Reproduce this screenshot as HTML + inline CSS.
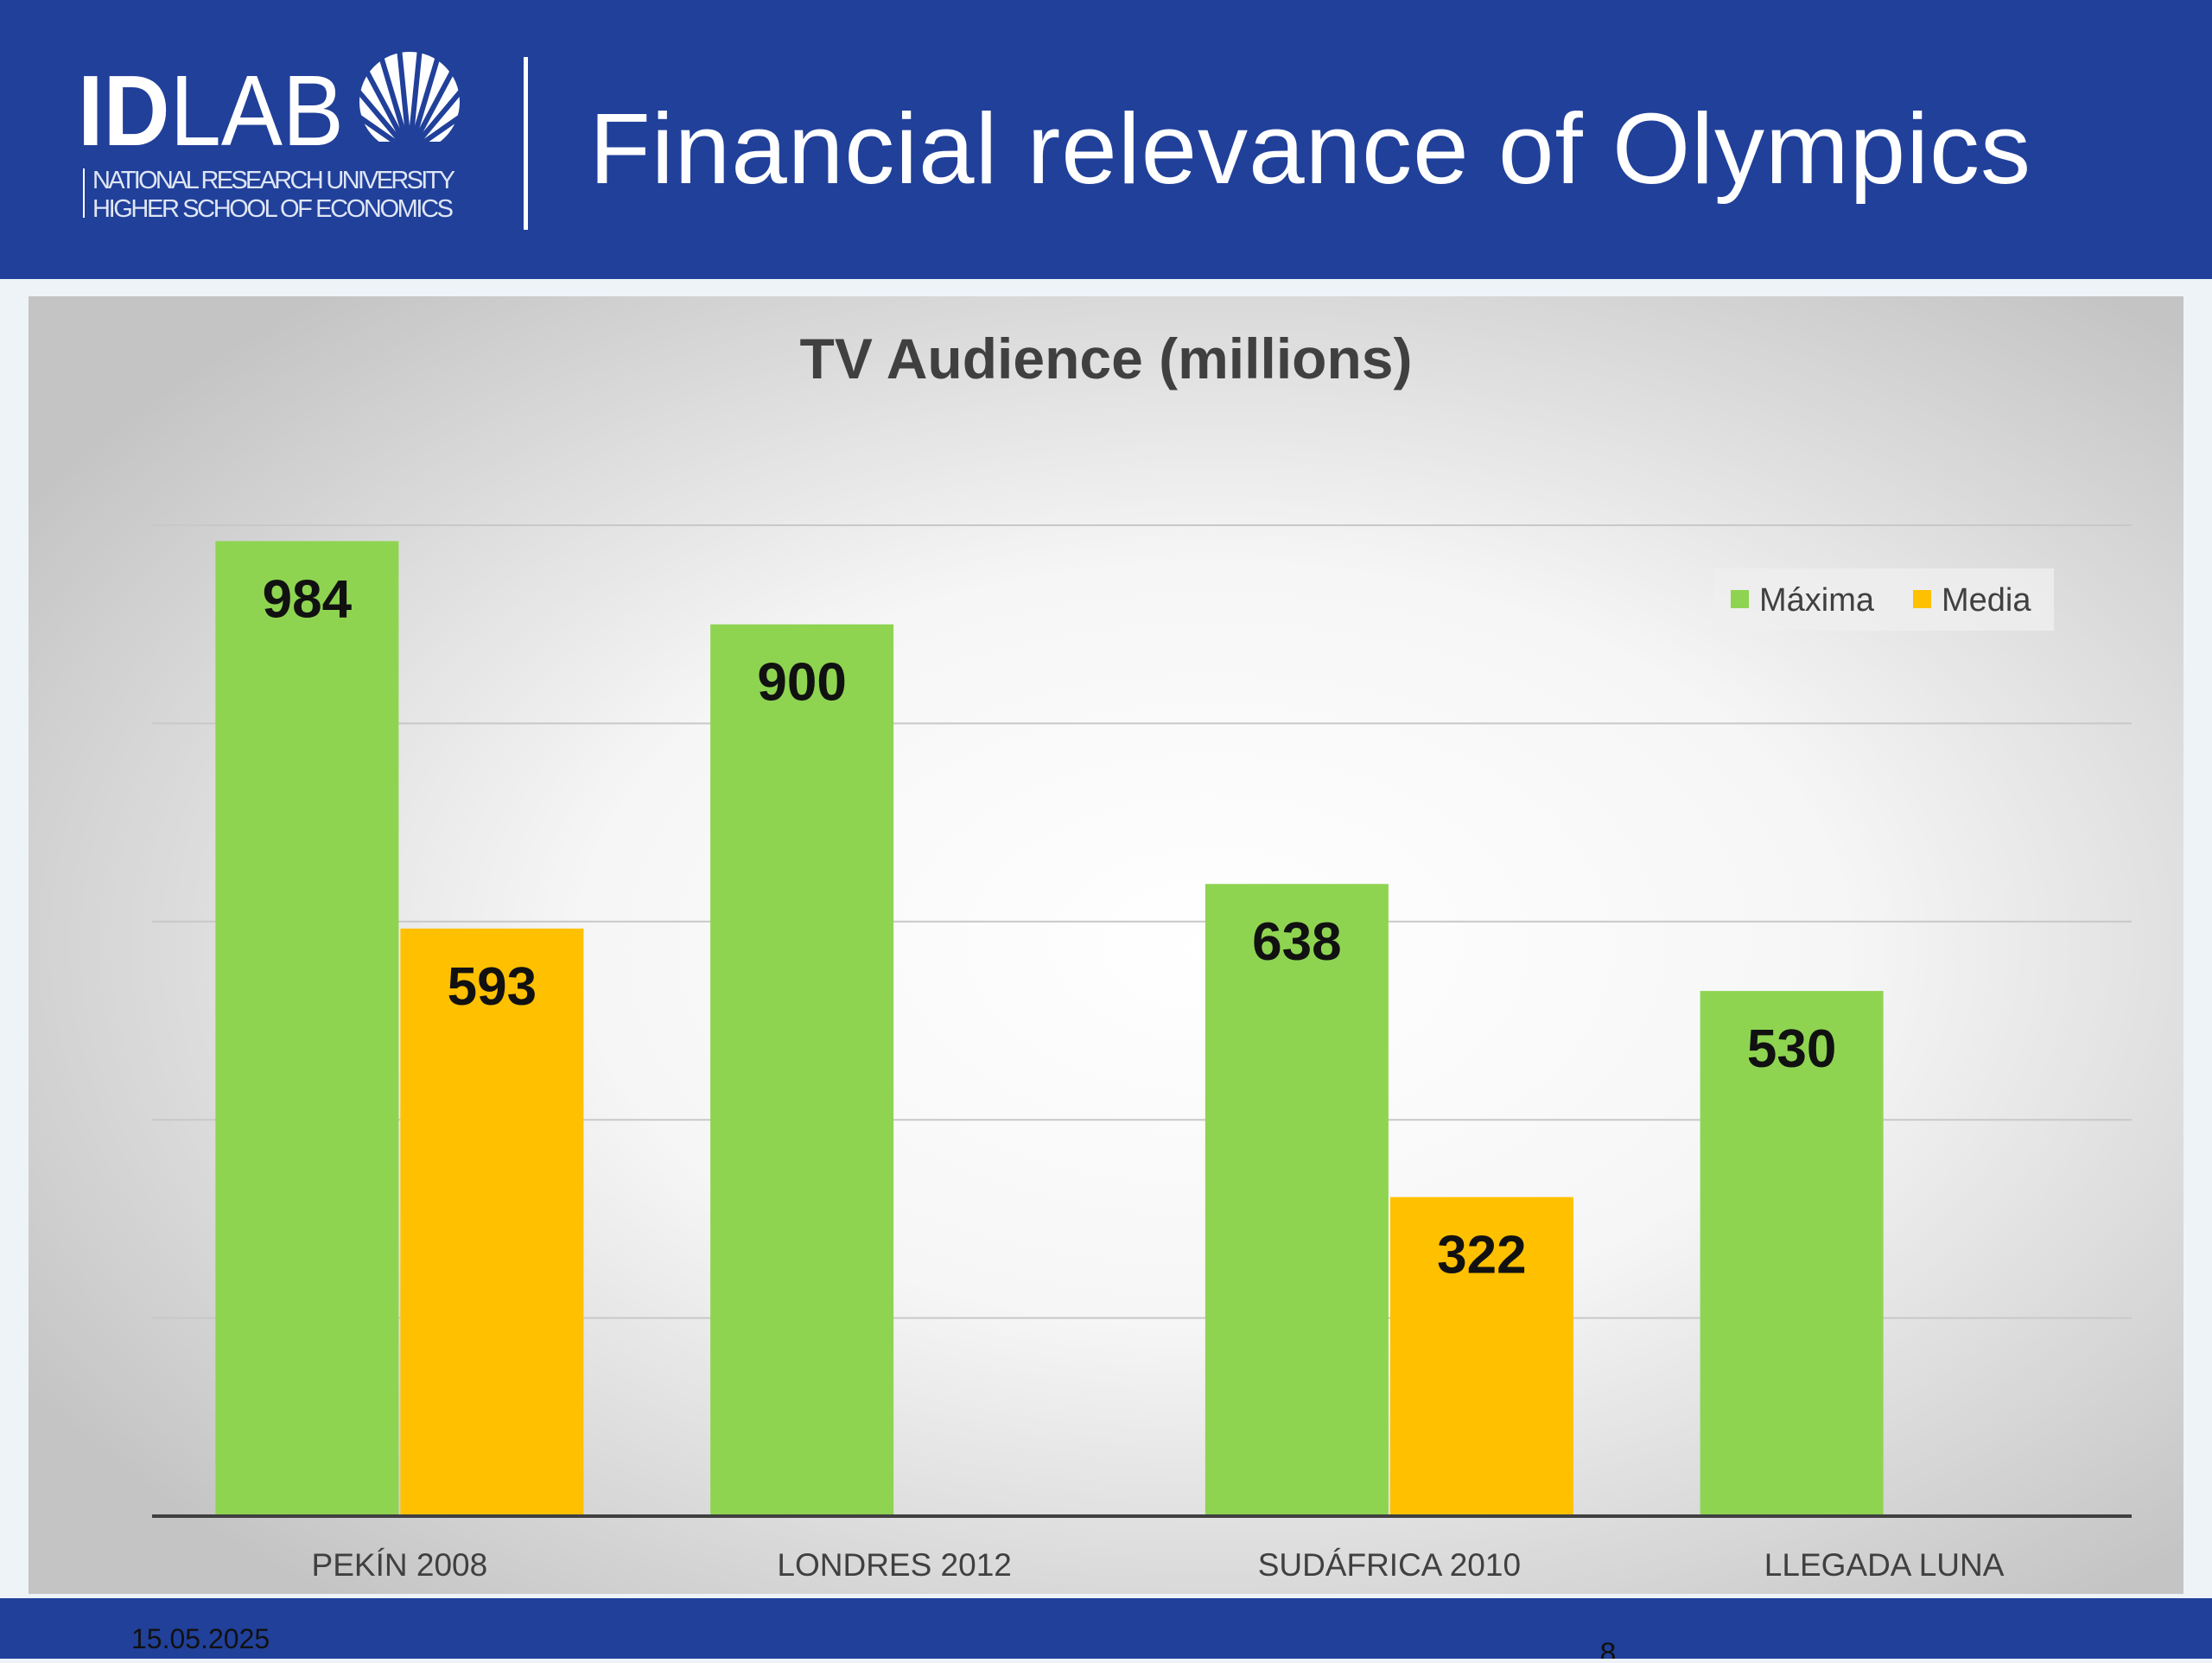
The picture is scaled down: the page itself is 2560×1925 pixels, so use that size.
<!DOCTYPE html>
<html><head><meta charset="utf-8"><style>
html,body{margin:0;padding:0;background:#eef3f8;}
body{width:2560px;height:1920px;overflow:hidden;font-family:"Liberation Sans",sans-serif;}
</style></head><body>
<svg id="c" width="2560" height="1920" xmlns="http://www.w3.org/2000/svg">
<defs>
<radialGradient id="bg" cx="0.55" cy="0.5" r="0.65">
<stop offset="0" stop-color="#ffffff"/><stop offset="0.45" stop-color="#f6f6f6"/><stop offset="1" stop-color="#c4c4c4"/>
</radialGradient>
</defs>
<rect x="0" y="0" width="2560" height="1920" fill="#eef3f8"/>
<g>
<rect x="0" y="0" width="2560" height="323" fill="#21409a"/>
<text x="90" y="168" font-size="116" fill="#fff" font-weight="bold" textLength="308" lengthAdjust="spacingAndGlyphs">ID<tspan font-weight="normal">LAB</tspan></text>
<g>
<circle cx="474" cy="118" r="58" fill="#fff"/>
<g stroke="#21409a" stroke-width="6">
<line x1="474" y1="176" x2="410" y2="100"/>
<line x1="474" y1="176" x2="422" y2="78"/>
<line x1="474" y1="176" x2="440" y2="62"/>
<line x1="474" y1="176" x2="462" y2="56"/>
<line x1="474" y1="176" x2="486" y2="56"/>
<line x1="474" y1="176" x2="508" y2="62"/>
<line x1="474" y1="176" x2="526" y2="78"/>
<line x1="474" y1="176" x2="538" y2="100"/>
<line x1="474" y1="176" x2="540" y2="130"/>
<line x1="474" y1="176" x2="408" y2="130"/>
</g>
<rect x="400" y="164" width="150" height="20" fill="#21409a"/>
</g>
<line x1="97" y1="195" x2="97" y2="252" stroke="#fff" stroke-width="2"/>
<text x="107" y="218" font-size="29" fill="#dfe6f5" textLength="420">NATIONAL RESEARCH UNIVERSITY</text>
<text x="107" y="251" font-size="29" fill="#dfe6f5" textLength="418">HIGHER SCHOOL OF ECONOMICS</text>
<rect x="606" y="66" width="5" height="200" fill="#fff"/>
<text x="682" y="212" font-size="116" fill="#fff" textLength="1668">Financial relevance of Olympics</text>
</g>
<rect x="33" y="343" width="2494" height="1502" fill="url(#bg)"/>
<text x="1280" y="438" font-size="66" font-weight="bold" fill="#404040" text-anchor="middle">TV Audience (millions)</text>
<g id="grid"></g>
<g id="bars"></g>
<g>
<rect x="1983" y="658" width="394" height="72" fill="#efefef" opacity="0.8"/>
<rect x="2003" y="683" width="21" height="21" fill="#8ed451"/>
<text x="2036" y="707" font-size="38" fill="#404040">Máxima</text>
<rect x="2214" y="683" width="21" height="21" fill="#ffc000"/>
<text x="2247" y="707" font-size="38" fill="#404040">Media</text>
</g>
<g>
<rect x="0" y="1850" width="2560" height="70" fill="#21409a"/>
<text x="152" y="1908" font-size="32" fill="#111">15.05.2025</text>
<text x="1861" y="1925" font-size="34" fill="#111" text-anchor="middle">8</text>
</g>
</svg>
<script>
const categories = ["PEKÍN 2008","LONDRES 2012","SUDÁFRICA 2010","LLEGADA LUNA"];
const maxima = [984, 900, 638, 530];
const media = [593, null, 322, null];
const yTicks = [0, 200, 400, 600, 800, 1000];
const NS = "http://www.w3.org/2000/svg";
const L = 176, R = 2467, B = 1755, T = 608, yMax = 1000;
const y = v => B - (v / yMax) * (B - T);
const band = (R - L) / categories.length;
const bw = 214;
const grid = document.getElementById('grid'), bars = document.getElementById('bars');
function mk(tag, attrs, parent) { const e = document.createElementNS(NS, tag); for (const k in attrs) e.setAttribute(k, attrs[k]); parent.appendChild(e); return e; }
yTicks.forEach(t => {
  if (t === 0) return;
  const g = mk('line', {x1: L, x2: R, y1: y(t), y2: y(t), stroke: '#c8c8c8', 'stroke-width': 2}, grid);
  
  
});
categories.forEach((c, i) => {
  const cx = L + band * (i + 0.5);
  [[maxima[i], '#8ed451', cx - bw, 'maxima'], [media[i], '#ffc000', cx, 'media']].forEach(([v, col, x, s]) => {
    if (v == null) return;
    const r = mk('rect', {x: x + 1, y: y(v), width: bw - 2, height: B - y(v), fill: col}, bars);
    
    
    const t = mk('text', {x: x + bw / 2, y: y(v) + 88, 'font-size': 62, 'font-weight': 'bold', fill: '#111', 'text-anchor': 'middle'}, bars);
    t.textContent = v;
    
    
  });
  const lab = mk('text', {x: cx, y: 1824, 'font-size': 37, fill: '#404040', 'text-anchor': 'middle'}, bars);
  lab.textContent = c;
  
  
});
const ax = mk('line', {x1: L, x2: R, y1: B, y2: B, stroke: '#404040', 'stroke-width': 4}, bars);


</script>
</body></html>
